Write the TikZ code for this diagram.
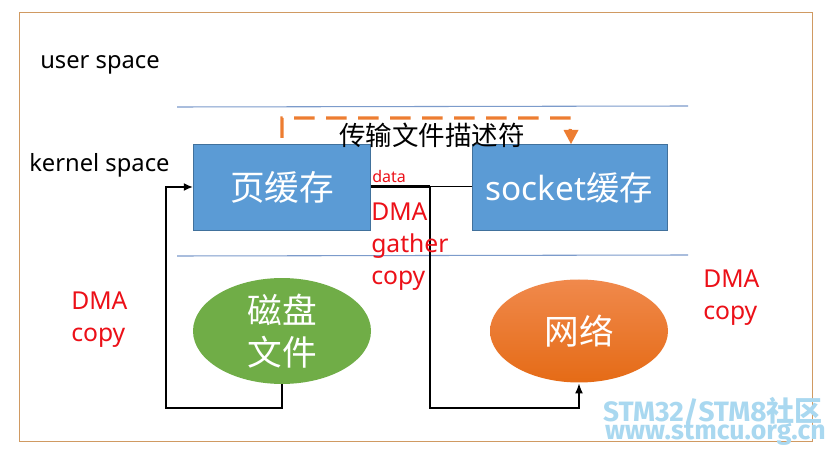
\documentclass[tikz,border=0pt]{standalone}
\usepackage{fontspec}
\setmainfont{Noto Sans}
\newfontfamily\cjk{Noto Sans CJK SC}
\newfontfamily\wmfont{Fira Sans}
\usetikzlibrary{arrows.meta,calc,shapes.geometric}
\definecolor{frameor}{HTML}{D09A62}
\definecolor{linebl}{HTML}{7C9BCB}
\definecolor{boxbl}{HTML}{5B9BD5}
\definecolor{boxedge}{HTML}{41719C}
\definecolor{diskgr}{HTML}{70AD47}
\definecolor{dashor}{HTML}{ED7D31}
\definecolor{nettop}{HTML}{F0894C}
\definecolor{netmid}{HTML}{F47B20}
\definecolor{netbot}{HTML}{E56B16}
\definecolor{redtxt}{HTML}{EC1018}
\definecolor{wm}{HTML}{A9D8F0}
\tikzset{
  cachebox/.style={draw=boxedge,fill=boxbl,line width=.6pt,minimum width=177*.75pt,minimum height=86*.75pt,inner sep=0pt,text=white,font=\fontsize{26}{30}\selectfont},
  blob/.style={ellipse,minimum width=178*.75pt,minimum height=103*.75pt,inner sep=0pt,text=white},
  sep/.style={draw=linebl,line width=.8pt},
  conn/.style={draw=black,line width=1.6pt},
  label/.style={inner sep=0pt,font=\fontsize{17.8}{20}\selectfont,text=black},
  redlab/.style={inner sep=0pt,text=redtxt,font=\fontsize{18.5}{24}\selectfont,align=left},
}
\begin{document}
\begin{tikzpicture}[x=.75pt,y=-.75pt]
\useasboundingbox (0,0) rectangle (833,456);
\fill[white] (0,0) rectangle (833,456);
\node[draw=frameor,line width=.7pt,minimum width=793*.75pt,minimum height=429*.75pt,inner sep=0pt] (frame) at (415.5,226.5) {};
\coordinate (s1a) at (177,107); \coordinate (s1b) at (688,106);
\coordinate (s2a) at (177,256); \coordinate (s2b) at (688,255);
\draw[sep] (s1a) -- (s1b);
\draw[sep] (s2a) -- (s2b);
\node[label,anchor=west] (us) at (40,65) {user space};
\node[label,anchor=west] (ks) at (29,165) {kernel space};
\node[cachebox] (page) at (282,187.5) {\cjk 页缓存};
\node[cachebox,minimum width=195*.75pt,font=\fontsize{25}{30}\selectfont] (sock) at (569.5,187.5) {socket\cjk 缓存};
\node[blob,fill=diskgr,align=center,font=\fontsize{26}{31}\selectfont] (disk) at (282,331) {\cjk 磁盘\\[1pt]\cjk 文件};
\shade[top color=nettop,middle color=netmid,bottom color=netbot] (579,331) ellipse (89 and 51.5);
\node[blob,font=\fontsize{26}{31}\selectfont] (net) at (579,331) {\cjk 网络};
\coordinate (dtop) at (282,118);
\coordinate (dtopr) at (571,118);
\draw[dashor,line width=2.4pt,dash pattern=on 15.5pt off 8.5pt] (282,138) -- (dtop) -- (dtopr) -- ($(sock.north west)+(98.5,-12)$);
\fill[dashor] (571,144) -- (563.5,130) -- (578.5,130) -- cycle;
\node[inner sep=0pt,font=\fontsize{19.9}{22}\selectfont] (desc) at (432,135) {\cjk 传输文件描述符};
\coordinate (d1) at (166,408);
\coordinate (d2) at (166,187);
\draw[conn,-{Latex[length=7pt,width=6pt]}] (disk.south) |- (d1) -- (d2) -- ($(page.west)+(0,-.5)$);
\coordinate (j) at (430,186.5);
\coordinate (n1) at (430,408);
\draw[conn] (page.east |- j) -- (j);
\draw[conn,line width=1.4pt] (j) -- (sock.west |- j);
\draw[conn,-{Latex[length=8pt,width=6pt]}] (j) -- (n1) -| (net.south);
\node[redlab,anchor=west,font=\fontsize{12}{14}\selectfont] (data) at (372,177) {data};
\node[redlab,anchor=north west] (gather) at (371,203) {DMA\\gather\\copy};
\node[redlab,anchor=west] (c1) at (71,320) {DMA\\copy};
\node[redlab,anchor=west] (c2) at (703,298) {DMA\\copy};
\node[inner sep=0pt,anchor=east,text=wm,font=\wmfont\bfseries\fontsize{21}{22}\selectfont] (wm1) at (823,411) {STM32/STM8{\cjk\bfseries 社区}};
\node[inner sep=0pt,anchor=east,text=wm,font=\wmfont\bfseries\fontsize{20}{20}\selectfont] (wm2) at (826,434) {www.stmcu.org.cn};
\end{tikzpicture}
\end{document}
